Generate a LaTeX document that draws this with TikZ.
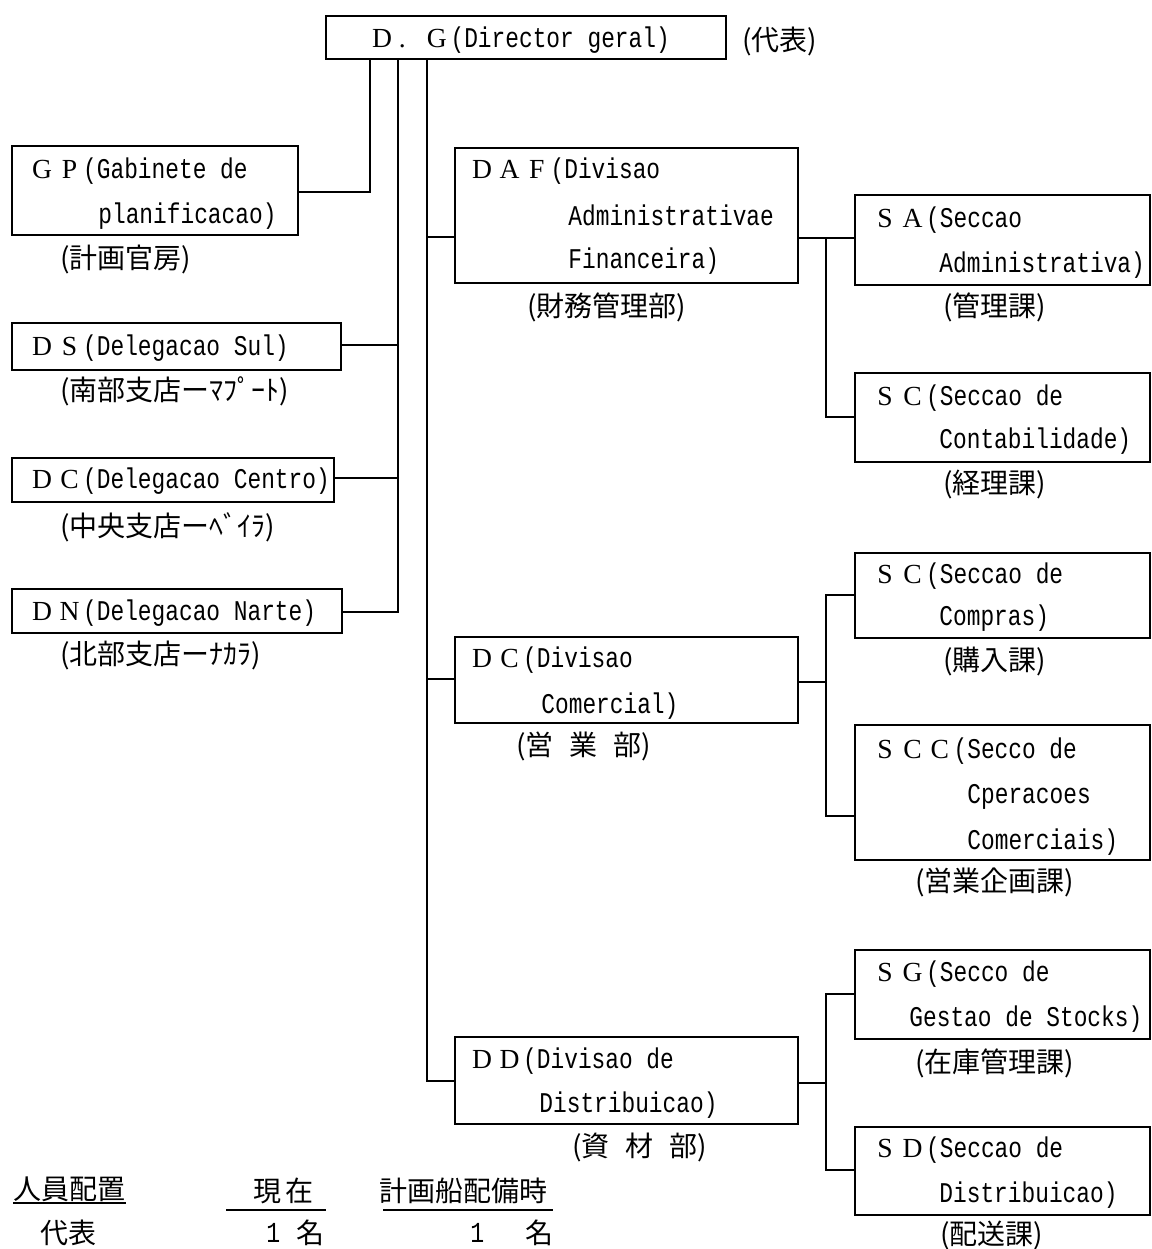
\documentclass[tikz,border=0pt]{standalone}
\usepackage{fontspec}
\setmainfont{Liberation Serif}
\newfontfamily\lat[FakeStretch=0.8]{Liberation Mono}
\newfontfamily\jp{Noto Sans CJK JP}
\usetikzlibrary{fit}
\newcommand\fw[1]{\makebox[13.7pt][c]{\rmfamily\fontsize{13.8}{14}\selectfont #1}}
\newcommand\fwdot{\makebox[13.7pt][l]{\rmfamily\fontsize{13.8}{14}\selectfont\hspace{1.5pt}.}}
\begin{document}
\begin{tikzpicture}[x=0.5pt,y=-0.5pt,
  ln/.style={line width=1pt},
  bx/.style={draw,line width=1pt,inner sep=0pt},
  tx/.style={anchor=base west,inner sep=0pt,font=\lat\fontsize{14.27}{15}\selectfont},
  jl/.style={anchor=west,inner sep=0pt,font=\jp\fontsize{14}{16}\selectfont},
  nm/.style={anchor=west,inner sep=0pt,font=\lat\fontsize{14.5}{16}\selectfont}]
\fill[white] (0,0) rectangle (1152,1249);
\useasboundingbox (0,0) rectangle (1152,1249);

% boxes
\node[bx,fit={(326,16) (726,59)}] (dg) {};
\node[bx,fit={(12,146) (298,235)}] (gp) {};
\node[bx,fit={(12,323) (341,370)}] (ds) {};
\node[bx,fit={(12,458) (334,502)}] (dcl) {};
\node[bx,fit={(12,589) (342,633)}] (dn) {};
\node[bx,fit={(455,148) (798,283)}] (daf) {};
\node[bx,fit={(855,195) (1150,285)}] (sa) {};
\node[bx,fit={(855,373) (1150,462)}] (sc) {};
\node[bx,fit={(855,553) (1150,638)}] (scp) {};
\node[bx,fit={(455,637) (798,723)}] (dcd) {};
\node[bx,fit={(855,725) (1150,860)}] (scc) {};
\node[bx,fit={(855,950) (1150,1039)}] (sg) {};
\node[bx,fit={(455,1037) (798,1124)}] (dd) {};
\node[bx,fit={(855,1127) (1150,1215)}] (sd) {};

% texts
\node[tx] (tdg) at (368,47) {\fw{D}\fwdot\fw{G}(Director geral)};
\node[jl] (ldg) at (742,41) {(代表)};

\node[tx] (tgp1) at (28,178) {\fw{G}\fw{P}(Gabinete de};
\node[tx] (tgp2) at (98,223) {planificacao)};
\node[jl] (lgp) at (60,259) {(計画官房)};

\node[tx] (tds) at (28,355) {\fw{D}\fw{S}(Delegacao Sul)};
\node[jl] (lds) at (60,391) {(南部支店ーﾏﾌﾟｰﾄ)};
\node[tx] (tdcl) at (28,488) {\fw{D}\fw{C}(Delegacao Centro)};
\node[jl] (ldcl) at (60,527) {(中央支店ーﾍﾞｲﾗ)};
\node[tx] (tdn) at (28,620) {\fw{D}\fw{N}(Delegacao Narte)};
\node[jl] (ldn) at (60,655) {(北部支店ーﾅｶﾗ)};

\node[tx] (tdaf1) at (468,178) {\fw{D}\fw{A}\fw{F}(Divisao};
\node[tx] (tdaf2) at (568,225) {Administrativae};
\node[tx] (tdaf3) at (568,268) {Financeira)};
\node[jl] (ldaf) at (527,307) {(財務管理部)};

\node[tx] (tsa1) at (871,227) {\fw{S}\fw{A}(Seccao};
\node[tx] (tsa2) at (939,272) {Administrativa)};
\node[jl] (lsa) at (943,307) {(管理課)};

\node[tx] (tsc1) at (871,405) {\fw{S}\fw{C}(Seccao de};
\node[tx] (tsc2) at (939,448) {Contabilidade)};
\node[jl] (lsc) at (943,484) {(経理課)};

\node[tx] (tscp1) at (871,583) {\fw{S}\fw{C}(Seccao de};
\node[tx] (tscp2) at (939,625) {Compras)};
\node[jl] (lscp) at (943,661) {(購入課)};

\node[tx] (tdcd1) at (468,667) {\fw{D}\fw{C}(Divisao};
\node[tx] (tdcd2) at (541,713) {Comercial)};
\node[jl] (ldcd) at (516,746) {(営\hspace{8pt}業\hspace{8pt}部)};

\node[tx] (tscc1) at (871,758) {\fw{S}\fw{C}\fw{C}(Secco de};
\node[tx] (tscc2) at (967,803) {Cperacoes};
\node[tx] (tscc3) at (967,849) {Comerciais)};
\node[jl] (lscc) at (915,882) {(営業企画課)};

\node[tx] (tsg1) at (871,981) {\fw{S}\fw{G}(Secco de};
\node[tx] (tsg2) at (909,1026) {Gestao de Stocks)};
\node[jl] (lsg) at (915,1063) {(在庫管理課)};

\node[tx] (tdd1) at (468,1068) {\fw{D}\fw{D}(Divisao de};
\node[tx] (tdd2) at (539,1112) {Distribuicao)};
\node[jl] (ldd) at (572,1147) {(資\hspace{8pt}材\hspace{8pt}部)};

\node[tx] (tsd1) at (871,1157) {\fw{S}\fw{D}(Seccao de};
\node[tx] (tsd2) at (939,1202) {Distribuicao)};
\node[jl] (lsd) at (940,1235) {(配送課)};

% connectors: left trunks
\coordinate (vA) at (370,192);
\draw[ln] (vA |- dg.south) -- (vA) -- (vA -| gp.east);
\coordinate (vB) at (398,612);
\draw[ln] (vB |- dg.south) -- (vB) -- (vB -| dn.east);
\coordinate (bDS) at (398,345);
\draw[ln] (bDS) -- (bDS -| ds.east);
\coordinate (bDC) at (398,478);
\draw[ln] (bDC) -- (bDC -| dcl.east);
\coordinate (vC) at (427,1081);
\draw[ln] (vC |- dg.south) -- (vC) -- (vC -| dd.west);
\coordinate (cDAF) at (427,237);
\draw[ln] (cDAF) -- (cDAF -| daf.west);
\coordinate (cDCD) at (427,679);
\draw[ln] (cDCD) -- (cDCD -| dcd.west);

% right groups
\coordinate (r1) at (826,238);
\coordinate (r1b) at (826,417);
\draw[ln] (r1 -| daf.east) -- (r1 -| sa.west);
\draw[ln] (r1) -- (r1b) -- (r1b -| sc.west);

\coordinate (r2) at (826,682);
\coordinate (r2a) at (826,595);
\coordinate (r2b) at (826,816);
\draw[ln] (r2 -| dcd.east) -- (r2);
\draw[ln] (r2a -| scp.west) -- (r2a) -- (r2b) -- (r2b -| scc.west);

\coordinate (r3) at (826,1083);
\coordinate (r3a) at (826,994);
\coordinate (r3b) at (826,1170);
\draw[ln] (r3 -| dd.east) -- (r3);
\draw[ln] (r3a -| sg.west) -- (r3a) -- (r3b) -- (r3b -| sd.west);

% staffing table
\node[jl] (th1) at (13,1189) {人員配置};
\coordinate (u1a) at (13,1203);
\coordinate (u1b) at (126,1203);
\draw[line width=0.8pt] (u1a) -- (u1b);
\node[jl] (th2) at (253,1191) {現\hspace{2pt}在};
\coordinate (u2a) at (226,1210);
\coordinate (u2b) at (326,1210);
\draw[line width=0.8pt] (u2a) -- (u2b);
\node[jl] (th3) at (379,1191) {計画船配備時};
\coordinate (u3a) at (383,1210);
\coordinate (u3b) at (553,1210);
\draw[line width=0.8pt] (u3a) -- (u3b);
\node[jl] (tr1) at (40,1233) {代表};
\node[nm] (n1) at (266,1233) {1};
\node[jl] (m1) at (296,1233) {名};
\node[nm] (n2) at (470,1233) {1};
\node[jl] (m2) at (525,1233) {名};
\end{tikzpicture}
\end{document}
